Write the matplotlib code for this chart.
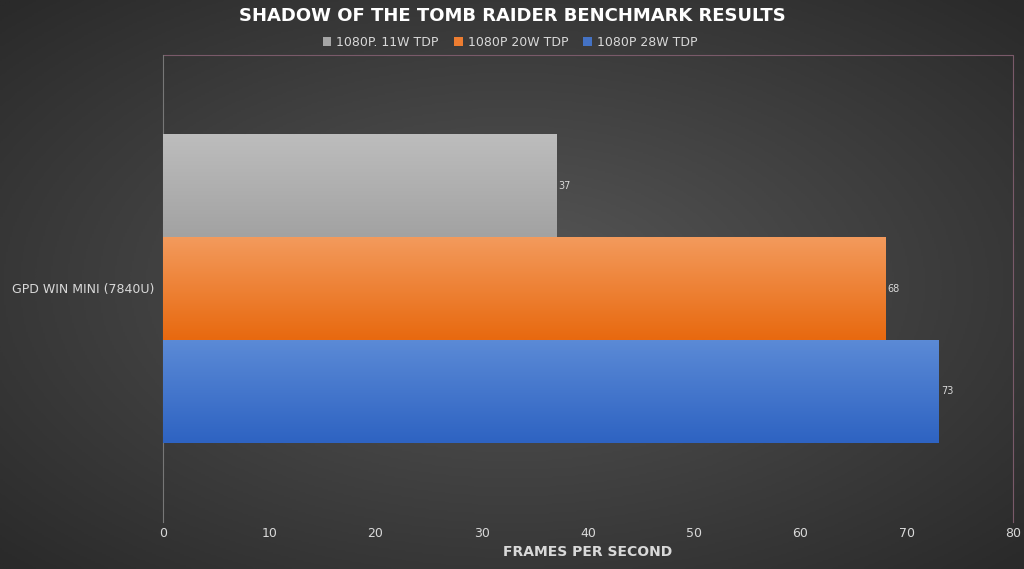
import matplotlib
matplotlib.use("Agg")
import matplotlib.pyplot as plt
import numpy as np
from matplotlib.colors import LinearSegmentedColormap

categories = ["GPD WIN MINI (7840U)"]
series = ["1080P. 11W TDP", "1080P 20W TDP", "1080P 28W TDP"]
values = [37, 68, 73]
colors_top = ["#bdbdbd", "#f39a5c", "#5b8ad6"]
colors_bot = ["#a2a2a2", "#e8690f", "#2e63c2"]
legend_colors = ["#a5a5a5", "#ed7d31", "#4472c4"]

fig = plt.figure(figsize=(10.24, 5.69), dpi=100)
bg = fig.add_axes([0, 0, 1, 1], zorder=-10)
yy, xx = np.mgrid[-1:1:300j, -1:1:540j]
r = np.sqrt(xx**2 + yy**2)
bg.imshow(r, cmap=LinearSegmentedColormap.from_list("bg", ["#575757", "#2a2a2a"]),
          extent=[0, 1, 0, 1], aspect="auto", vmin=0, vmax=1.4)
bg.plot([163/1024, 1013/1024, 1013/1024], [514/569, 514/569, 47/569],
        color="#7a5a6a", lw=0.8)
bg.set_xlim(0, 1); bg.set_ylim(0, 1)
bg.axis("off")

ax = fig.add_axes([163/1024, 47/569, 850/1024, 467/569])
ax.set_facecolor("none")
offsets = [0.22, 0.0, -0.22]
h = 0.22
handles = []
for i, (s, v) in enumerate(zip(series, values)):
    y = offsets[i]
    bars = ax.barh(y, v, height=h, color=legend_colors[i], label=s, zorder=2)
    handles.append(bars)
    cm = LinearSegmentedColormap.from_list("g%d" % i, [colors_bot[i], colors_top[i]])
    im = ax.imshow(np.linspace(0, 1, 100).reshape(-1, 1), cmap=cm, origin="lower",
                   extent=[0, v, y - h/2, y + h/2], aspect="auto", zorder=3)
    im.set_clip_path(bars[0])
    ax.text(v + 0.2, y, str(v), color="#d9d9d9", fontsize=7, va="center", ha="left")
ax.set_xlim(0, 80)
ax.set_ylim(-0.5, 0.5)
ax.set_yticks([0])
ax.set_yticklabels(categories, color="#d9d9d9", fontsize=9)
ax.set_xticks(range(0, 81, 10))
ax.tick_params(axis="x", colors="#d9d9d9", labelsize=9, length=0)
ax.tick_params(axis="y", length=0, pad=6)
for k in ["top", "right", "bottom"]:
    ax.spines[k].set_visible(False)
ax.spines["left"].set_color("#777777")
ax.set_xlabel("FRAMES PER SECOND", color="#d9d9d9", fontsize=10, fontweight="bold", labelpad=4)
fig.text(0.5, 0.972, "SHADOW OF THE TOMB RAIDER BENCHMARK RESULTS", color="white",
         fontsize=13, fontweight="bold", ha="center", va="center")
fig.legend(handles=handles, labels=series, loc="center", bbox_to_anchor=(0.498, 0.926), ncol=3,
           frameon=False, fontsize=9, labelcolor="#d9d9d9", handlelength=0.7, handleheight=0.7,
           columnspacing=1.2, handletextpad=0.4)
fig.savefig("out.png", dpi=100)
